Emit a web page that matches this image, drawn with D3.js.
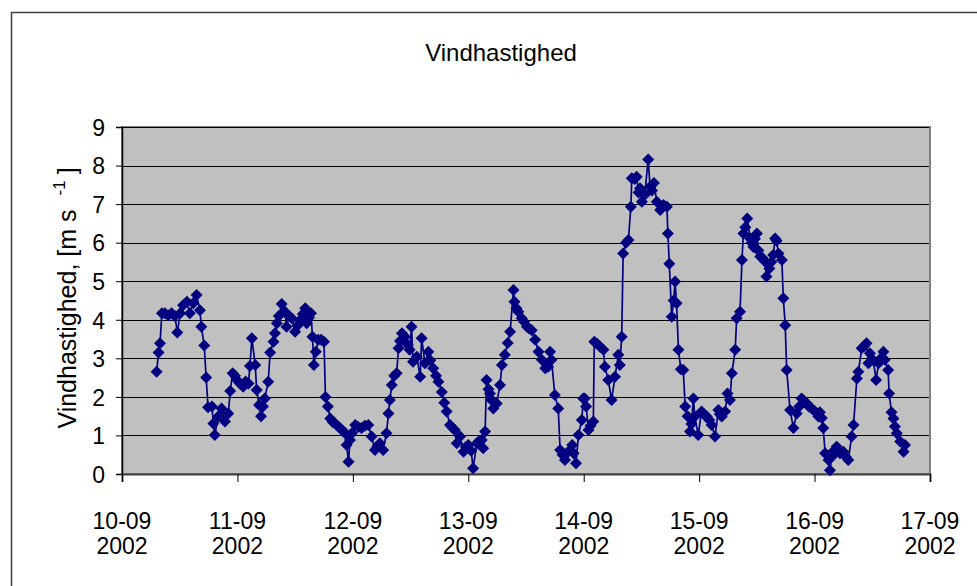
<!DOCTYPE html>
<html>
<head>
<meta charset="utf-8">
<script src="https://cdn.jsdelivr.net/npm/d3@7"></script>
<style>
  html, body { margin: 0; padding: 0; background: #ffffff; }
  svg text { font-family: "Liberation Sans", Arial, sans-serif; fill: #000; }
</style>
</head>
<body>
<svg id="chart" width="977" height="586"></svg>
<script>
// Wind speed record, hours after 10-09-2002 00:00
const hours = [
  7.2, 7.6, 7.9, 8.3, 8.9, 9.6, 10.3, 11.0, 11.5, 12.1, 12.7, 13.5, 14.1, 14.8, 15.5, 16.2, 16.5, 17.1, 17.5, 17.9,
  18.7, 19.0, 19.3, 20.0, 20.7, 21.4, 22.1, 22.5, 23.0, 23.5, 23.9, 24.5, 25.2, 25.7, 26.3, 26.6, 27.0, 27.7, 28.0, 28.5,
  28.9, 29.3, 29.7, 30.4, 30.8, 31.5, 31.8, 32.2, 32.6, 33.2, 33.9, 34.2, 34.7, 35.3, 36.0, 36.5, 37.0, 37.6, 38.1, 38.4,
  38.9, 39.3, 39.6, 39.9, 40.3, 40.8, 41.4, 42.0, 42.3, 42.8, 43.3, 43.8, 44.3, 44.8, 45.3, 45.9, 46.4, 46.7, 47.1, 47.4,
  47.8, 48.5, 49.1, 49.8, 50.5, 51.2, 51.9, 52.6, 53.1, 53.6, 54.3, 55.0, 55.4, 55.7, 56.1, 56.6, 57.1, 57.5, 57.8, 58.2,
  58.8, 59.4, 59.8, 60.2, 60.5, 61.3, 62.0, 62.3, 63.0, 63.7, 64.1, 64.7, 65.3, 65.8, 66.5, 67.0, 67.5, 68.2, 68.7, 69.2,
  69.6, 70.3, 71.0, 71.5, 72.0, 72.6, 73.0, 73.8, 74.2, 74.8, 75.1, 75.5, 75.8, 76.2, 76.5, 76.8, 77.2, 77.9, 78.6, 79.0,
  79.6, 80.2, 80.7, 81.4, 81.6, 82.0, 82.4, 83.1, 83.6, 84.2, 84.6, 85.2, 85.9, 86.6, 87.3, 88.0, 88.3, 88.6, 89.0, 89.3,
  90.0, 90.7, 91.1, 91.6, 92.1, 92.6, 93.2, 93.6, 93.9, 94.4, 94.9, 95.6, 95.9, 96.2, 96.5, 97.0, 97.4, 98.0, 98.2, 98.8,
  99.4, 100.1, 100.4, 101.1, 101.8, 102.5, 103.2, 103.5, 103.9, 104.2, 104.8, 105.3, 105.8, 106.0, 106.6, 107.0, 107.4, 107.7, 108.1, 108.7,
  109.4, 109.8, 110.2, 110.6, 111.2, 111.9, 112.6, 113.3, 113.5, 113.8, 114.3, 114.7, 115.0, 115.3, 115.7, 116.2, 116.7, 117.1, 117.6, 118.1,
  118.4, 118.8, 119.1, 119.8, 120.5, 121.0, 121.6, 122.1, 122.6, 123.3, 124.0, 124.3, 124.7, 125.4, 125.9, 126.4, 126.8, 127.5, 127.8, 128.5,
  128.9, 129.2, 129.6, 130.0, 130.6, 130.9, 131.3, 131.6, 132.0, 132.3, 132.7, 133.2, 133.7, 134.0, 134.6, 135.0, 135.4, 135.8, 136.1, 136.5,
  137.2, 137.5, 137.9, 138.2, 138.9, 139.6, 140.3, 140.8, 141.3, 141.8, 142.4, 142.8, 143.4, 144.1, 144.8, 145.1, 145.5, 145.8, 146.2, 146.9,
  147.2, 147.6, 148.0, 148.6, 149.3, 150.0, 150.5, 151.0, 151.7, 152.1, 152.8, 153.1, 153.8, 154.3, 154.8, 155.2, 155.5, 156.2, 156.8, 157.3,
  157.8, 158.3, 158.6, 159.3, 159.5, 160.0, 160.4, 160.7, 161.1, 161.8, 162.5, 162.8
];
const speeds = [
  2.65, 3.15, 3.39, 4.17, 4.17, 4.12, 4.17, 4.10, 3.67, 4.17, 4.38, 4.47, 4.17, 4.43, 4.64, 4.25, 3.82, 3.33, 2.50, 1.73,
  1.75, 1.31, 1.01, 1.49, 1.70, 1.36, 1.57, 2.15, 2.61, 2.55, 2.44, 2.35, 2.26, 2.40, 2.35, 2.80, 3.52, 2.83, 2.18, 1.79,
  1.50, 1.75, 1.96, 2.39, 3.15, 3.43, 3.65, 3.91, 4.10, 4.41, 4.21, 3.82, 4.10, 4.04, 3.69, 3.85, 3.99, 4.15, 4.30, 3.91,
  4.05, 4.17, 3.56, 2.83, 3.17, 3.48, 3.48, 3.43, 2.00, 1.75, 1.44, 1.35, 1.31, 1.25, 1.19, 1.12, 1.06, 0.75, 0.32, 0.88,
  1.06, 1.27, 1.22, 1.19, 1.25, 1.27, 0.97, 0.62, 0.72, 0.80, 0.62, 1.06, 1.57, 1.92, 2.31, 2.55, 2.61, 3.26, 3.45, 3.65,
  3.56, 3.35, 3.22, 3.82, 2.91, 3.04, 2.52, 3.52, 2.87, 3.17, 2.95, 2.74, 2.55, 2.39, 2.13, 1.85, 1.62, 1.27, 1.20, 1.14,
  0.80, 0.97, 0.58, 0.70, 0.75, 0.60, 0.15, 0.80, 0.85, 0.88, 0.67, 1.10, 2.44, 2.20, 2.09, 1.92, 1.70, 1.83, 2.31, 2.83,
  3.09, 3.40, 3.69, 4.77, 4.47, 4.30, 4.21, 4.04, 3.95, 3.82, 3.78, 3.73, 3.48, 3.17, 2.96, 2.74, 2.85, 2.78, 3.17, 2.96,
  2.05, 1.70, 0.62, 0.50, 0.36, 0.55, 0.62, 0.75, 0.54, 0.28, 1.01, 1.40, 1.96, 1.96, 1.75, 1.14, 1.25, 1.36, 3.43, 3.38,
  3.30, 3.22, 2.78, 2.44, 1.92, 2.52, 3.09, 2.83, 3.56, 5.72, 6.00, 6.07, 6.93, 7.67, 7.65, 7.71, 7.30, 7.41, 7.06, 7.24,
  8.16, 7.45, 7.35, 7.55, 7.06, 6.85, 6.98, 6.93, 6.24, 5.45, 4.08, 4.50, 4.99, 4.43, 3.22, 2.72, 2.70, 1.75, 1.50, 1.10,
  1.30, 1.96, 1.49, 1.01, 1.62, 1.55, 1.49, 1.40, 1.27, 0.97, 1.66, 1.55, 1.49, 1.62, 2.09, 1.92, 2.61, 3.22, 4.04, 4.21,
  5.55, 6.24, 6.40, 6.63, 6.11, 6.00, 5.89, 6.10, 6.24, 5.80, 5.64, 5.60, 5.51, 5.12, 5.33, 5.50, 5.68, 6.11, 6.05, 5.72,
  5.55, 4.56, 3.86, 2.70, 1.66, 1.19, 1.57, 1.75, 1.96, 1.90, 1.83, 1.75, 1.70, 1.62, 1.49, 1.60, 1.45, 1.19, 0.54, 0.36,
  0.10, 0.45, 0.60, 0.71, 0.54, 0.58, 0.45, 0.36, 0.97, 1.27, 2.48, 2.65, 3.26, 3.32, 3.39, 2.87, 3.13, 2.95, 2.44, 2.87,
  3.00, 3.17, 2.96, 2.70, 2.09, 1.60, 1.44, 1.23, 1.06, 0.84, 0.58, 0.75
];
const dayTicks = ["10-09", "11-09", "12-09", "13-09", "14-09", "15-09", "16-09", "17-09"];
const yearLabel = "2002";
const yTicks = [0, 1, 2, 3, 4, 5, 6, 7, 8, 9];
const chartTitle = "Vindhastighed";

const start = new Date(2002, 8, 10, 0, 0);
const end = new Date(2002, 8, 17, 0, 0);
const records = hours.map((h, i) => ({ t: new Date(start.getTime() + h * 3600e3), v: speeds[i] }));
const tickDates = dayTicks.map((d, i) => new Date(2002, 8, 10 + i));

const svg = d3.select("#chart");
const plot = { left: 122, right: 930, top: 127, bottom: 474 };
const labelSize = 23;

// outer chart frame
svg.append("rect")
  .attr("x", 11.5).attr("y", 12.5)
  .attr("width", 1000).attr("height", 620)
  .attr("fill", "none").attr("stroke", "#404040").attr("stroke-width", 1.5);

const x = d3.scaleTime().domain([start, end]).range([plot.left, plot.right]);
const y = d3.scaleLinear().domain([0, 9]).range([plot.bottom, plot.top]);

// plot area background
svg.append("rect")
  .attr("x", plot.left).attr("y", plot.top)
  .attr("width", plot.right - plot.left).attr("height", plot.bottom - plot.top)
  .attr("fill", "#c0c0c0").attr("stroke", "#808080").attr("stroke-width", 2);

// horizontal gridlines
svg.append("g").selectAll("line")
  .data(yTicks.filter(d => d > 0))
  .join("line")
  .attr("x1", plot.left).attr("x2", plot.right - 1)
  .attr("y1", d => Math.round(y(d)) + 0.5).attr("y2", d => Math.round(y(d)) + 0.5)
  .attr("stroke", "#000").attr("stroke-width", 1);

// y axis
const yAxis = svg.append("g")
  .attr("transform", `translate(${plot.left},0)`)
  .call(d3.axisLeft(y).tickValues(yTicks).tickSize(6).tickPadding(11).tickFormat(d3.format("d")));
yAxis.select(".domain").attr("stroke", "#000").attr("stroke-width", 1.5);
yAxis.selectAll(".tick line").attr("stroke", "#000");
yAxis.selectAll("text").attr("font-size", labelSize).attr("dy", "0.36em");

// x axis
const xAxis = svg.append("g")
  .attr("transform", `translate(0,${plot.bottom})`)
  .call(d3.axisBottom(x).tickValues(tickDates).tickSize(8).tickFormat(""));
xAxis.select(".domain").attr("stroke", "#404040").attr("stroke-width", 2);
xAxis.selectAll(".tick line").attr("stroke", "#000");

const xl = svg.append("g");
xl.selectAll("text.day")
  .data(tickDates)
  .join("text")
  .attr("class", "day")
  .attr("x", d => x(d)).attr("y", 529)
  .attr("text-anchor", "middle").attr("font-size", labelSize)
  .text((d, i) => dayTicks[i]);
xl.selectAll("text.yr")
  .data(tickDates)
  .join("text")
  .attr("class", "yr")
  .attr("x", d => x(d)).attr("y", 554)
  .attr("text-anchor", "middle").attr("font-size", labelSize)
  .text(yearLabel);

// series line and diamond markers
svg.append("path")
  .datum(records)
  .attr("fill", "none").attr("stroke", "#000080").attr("stroke-width", 1.7)
  .attr("d", d3.line().x(d => x(d.t)).y(d => y(d.v)));

svg.append("g").selectAll("path")
  .data(records)
  .join("path")
  .attr("transform", d => `translate(${x(d.t)},${y(d.v)}) rotate(45)`)
  .attr("d", d3.symbol().type(d3.symbolSquare).size(72))
  .attr("fill", "#000080");

// title
svg.append("text")
  .attr("x", 501).attr("y", 61)
  .attr("text-anchor", "middle").attr("font-size", 24)
  .text(chartTitle);

// y axis title with superscript unit exponent
const yt = svg.append("text")
  .attr("transform", "translate(76,298) rotate(-90)")
  .attr("text-anchor", "middle").attr("font-size", 25);
yt.append("tspan").text("Vindhastighed, [m s");
yt.append("tspan").attr("dx", 14).attr("dy", -11).attr("font-size", 17).text("-1");
yt.append("tspan").attr("dx", 6).attr("dy", 11).text("]");
</script>
</body>
</html>
